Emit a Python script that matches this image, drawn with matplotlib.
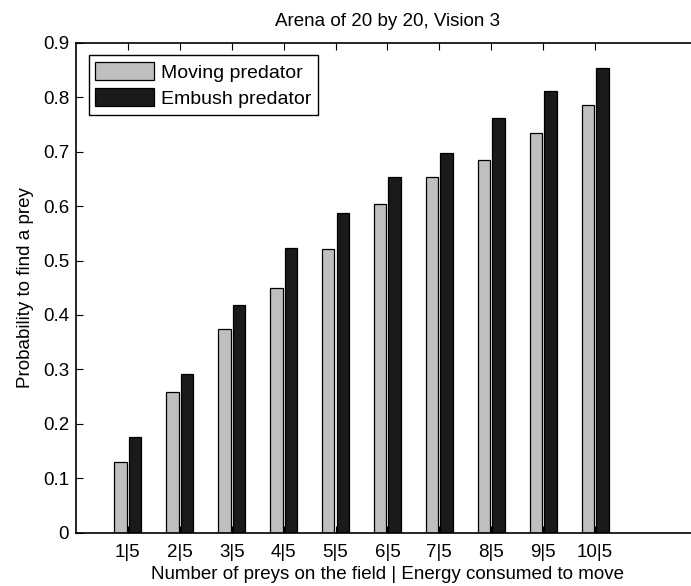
import numpy as np
import matplotlib.pyplot as plt

plt.rcParams['font.family'] = ['Liberation Sans', 'DejaVu Sans']

# Probability to find a prey, per scenario
labels = ["1|5", "2|5", "3|5", "4|5", "5|5", "6|5", "7|5", "8|5", "9|5", "10|5"]
moving = [0.129, 0.259, 0.375, 0.449, 0.521, 0.604, 0.653, 0.685, 0.735, 0.785]
embush = [0.175, 0.291, 0.418, 0.523, 0.587, 0.654, 0.698, 0.762, 0.812, 0.854]

x = np.arange(1, len(labels) + 1)

fig = plt.figure(figsize=(6.91, 5.86), dpi=100)
ax = fig.add_axes([0.110, 0.091, 0.9013, 0.836])

ax.bar(x - 0.14, moving, width=0.24, color='#bfbfbf', edgecolor='black',
       linewidth=0.9, label='Moving predator', zorder=2)
ax.bar(x + 0.14, embush, width=0.24, color='#1a1a1a', edgecolor='black',
       linewidth=0.9, label='Embush predator', zorder=2)

ax.set_xlim(0, 12)
ax.set_ylim(0, 0.9)
ax.set_xticks(x)
ax.set_xticklabels(labels)
ax.set_yticks(np.arange(0, 0.91, 0.1))
ax.set_yticklabels(['0'] + ['%.1f' % v for v in np.arange(0.1, 0.91, 0.1)])
ax.tick_params(direction='in', length=5, width=0.8, labelsize=13.5,
               top=True, right=True, pad=5, zorder=3)
ax.tick_params(axis='x', pad=8)
for s in ax.spines.values():
    s.set_linewidth(1.2)
    s.set_zorder(4)

ax.set_title('Arena of 20 by 20, Vision 3', fontsize=13.5, pad=12)
ax.set_xlabel('Number of preys on the field | Energy consumed to move', fontsize=13.5, labelpad=4)
ax.set_ylabel('Probability to find a prey', fontsize=13.5, labelpad=6)

leg = ax.legend(loc='upper left', fontsize=14, frameon=True, fancybox=False,
                edgecolor='black', framealpha=1, borderaxespad=0.65,
                handlelength=3.0, handleheight=1.0, borderpad=0.35,
                labelspacing=0.35, handletextpad=0.35)
leg.get_frame().set_linewidth(1.0)

fig.savefig('out.png', dpi=100)
